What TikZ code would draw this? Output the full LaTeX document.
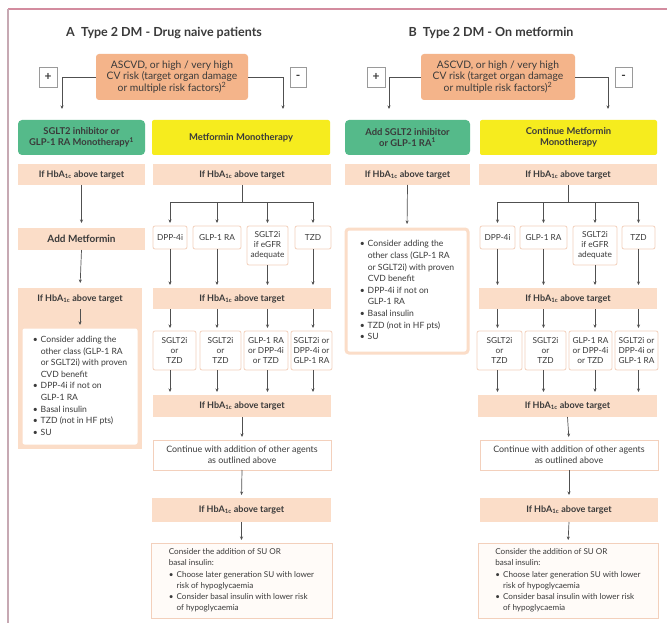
\documentclass[tikz,border=0pt]{standalone}
\usepackage{fontspec}
\setmainfont{Lato}
\usetikzlibrary{arrows.meta}
\definecolor{txt}{HTML}{3A3A3A}
\definecolor{ascv}{HTML}{F4B48A}
\definecolor{grnc}{HTML}{55BA8A}
\definecolor{yelc}{HTML}{F6EC1E}
\definecolor{hbc}{HTML}{FBDDC8}
\definecolor{smb}{HTML}{F3D0BC}
\definecolor{finfill}{HTML}{FFFBF8}
\definecolor{lin}{HTML}{505050}
\definecolor{pmgray}{HTML}{9A9A9A}
\definecolor{frtop}{HTML}{D38C9F}
\definecolor{frleft}{HTML}{C7A9B3}
\newcommand\mybox[7]{\node[#6,minimum width={(#4-#2)*1pt},minimum height={(#5-#3)*1pt}] (#1) at ({(#2+#4)/2},{(#3+#5)/2}) {#7};}
\newcommand\hbtext{If HbA\textsubscript{1c} above target}
\begin{document}
\begin{tikzpicture}[x=1pt,y=-1pt,
  every node/.style={inner sep=0pt,outer sep=0pt,text=txt},
  ttl/.style={font=\fontsize{12.5}{14}\selectfont\bfseries},
  asc/.style={fill=ascv,rounded corners=3pt,align=center,font=\fontsize{10.3}{11.5}\selectfont},
  pm/.style={draw=pmgray,fill=white,line width=0.6pt,font=\fontsize{12}{12}\selectfont\bfseries},
  grn/.style={fill=grnc,rounded corners=4pt,align=center,font=\fontsize{9.4}{11.5}\selectfont\bfseries},
  yel/.style={fill=yelc,rounded corners=2pt,align=center,font=\fontsize{9.4}{11.5}\selectfont\bfseries},
  hb/.style={fill=hbc,align=center,font=\fontsize{9}{10}\selectfont\bfseries},
  sm/.style={draw=smb,fill=white,rounded corners=2pt,line width=0.8pt,align=center,font=\fontsize{8.3}{10}\selectfont},
  lst/.style={draw=hbc,fill=white,rounded corners=3pt,line width=3pt,font=\fontsize{8.6}{11.6}\selectfont},
  cont/.style={draw=smb,fill=white,line width=0.8pt,align=center,font=\fontsize{8.9}{11}\selectfont},
  fin/.style={draw=smb,fill=finfill,line width=0.8pt,font=\fontsize{8.1}{11.2}\selectfont},
  ln/.style={draw=lin,line width=0.7pt},
  arr/.style={draw=lin,line width=0.7pt,-{Stealth[length=3.5pt,width=3pt]},shorten >=3pt}]
\useasboundingbox (0,0) rectangle (667,623);
\fill[white] (0,0) rectangle (667,623);
% frame
\draw[frtop,line width=1.5pt] (8,9) -- (667,9);
\draw[frleft,line width=2pt] (8,9) -- (8,623);

% ================= Panel A =================
\node[ttl] (ttlA) at (164,33) {A\enspace Type 2 DM - Drug naive patients};
\mybox{ascA}{96}{54}{248}{100}{asc}{ASCVD, or high / very high\\CV risk (target organ damage\\or multiple risk factors)\textsuperscript{2}}
\mybox{plusA}{39}{67}{57}{87}{pm}{+}
\mybox{minusA}{290}{67}{306}{87}{pm}{-}
\mybox{grnA}{18}{120}{145}{155}{grn}{SGLT2 inhibitor or\\GLP-1 RA Monotherapy\textsuperscript{1}}
\mybox{yelA}{152}{120}{330}{155}{yel}{Metformin Monotherapy}
\coordinate (aL) at (62,77);
\coordinate (aR) at (283,77);
\draw[arr,shorten >=11pt] (ascA.west) -- (aL) -- (aL |- grnA.north);
\draw[arr,shorten >=11pt] (ascA.east) -- (aR) -- (aR |- yelA.north);

% left column A
\mybox{hbA1}{18}{164}{145}{185}{hb}{\hbtext}
\mybox{addMet}{18}{228}{145}{250}{hb,font=\fontsize{10}{11}\selectfont\bfseries}{Add Metformin}
\fill[hbc] (18,288) rectangle (142,449);
\mybox{hbA3}{18}{288}{142}{309}{hb}{\hbtext}
\mybox{listA}{21}{327}{139}{446}{lst}{\begin{tabular}{@{}l@{\hspace{3pt}}l@{}}
\textbullet & Consider adding the\\
 & other class (GLP-1 RA\\
 & or SGLT2i) with proven\\
 & CVD benefit\\
\textbullet & DPP-4i if not on\\
 & GLP-1 RA\\
\textbullet & Basal insulin\\
\textbullet & TZD (not in HF pts)\\
\textbullet & SU
\end{tabular}}
\draw[arr,shorten >=5pt] (hbA1.south) -- (addMet.north);
\draw[arr,shorten >=5pt] (addMet.south) -- (hbA3.north);
\draw[arr,shorten >=2pt] (hbA3.south) -- (listA.north);

% right column A
\mybox{hbA2}{153}{164}{331}{185}{hb}{\hbtext}
\mybox{dppA}{153}{226}{187}{249}{sm}{DPP-4i}
\mybox{glpA}{193}{226}{241}{249}{sm}{GLP-1 RA}
\mybox{sgA}{247}{226}{288}{265}{sm}{SGLT2i\\if eGFR\\adequate}
\mybox{tzdA}{295}{226}{331}{249}{sm}{TZD}
\coordinate (busA) at (242,202);
\draw[ln] (hbA2.south) -- (busA);
\draw[ln] (busA -| dppA) -- (busA -| tzdA);
\foreach \n in {dppA,glpA,sgA,tzdA}{
  \draw[arr] (busA -| \n) -- (\n.north);}
\mybox{hbA4}{153}{288}{331}{309}{hb}{\hbtext}
\foreach \n in {dppA,glpA,sgA,tzdA}{
  \draw[arr] (\n.south) -- (\n.south |- hbA4.north);}
\mybox{cA1}{153}{331}{196}{370}{sm}{SGLT2i\\or\\TZD}
\mybox{cA2}{200}{331}{241}{370}{sm}{SGLT2i\\or\\TZD}
\mybox{cA3}{244}{331}{288}{370}{sm}{GLP-1 RA\\or DPP-4i\\or TZD}
\mybox{cA4}{291}{331}{332}{370}{sm}{SGLT2i or\\DPP-4i or\\GLP-1 RA}
\draw[arr] (dppA |- hbA4.south) -- (dppA |- cA1.north);
\draw[arr] (glpA |- hbA4.south) -- (glpA |- cA2.north);
\draw[arr] (sgA |- hbA4.south) -- (sgA |- cA3.north);
\draw[arr] (tzdA |- hbA4.south) -- (tzdA |- cA4.north);
\mybox{hbA5}{153}{395}{331}{417}{hb}{\hbtext}
\draw[arr] (dppA |- cA1.south) -- (dppA |- hbA5.north);
\draw[arr] (glpA |- cA2.south) -- (glpA |- hbA5.north);
\draw[arr] (sgA |- cA3.south) -- (sgA |- hbA5.north);
\draw[arr] (tzdA |- cA4.south) -- (tzdA |- hbA5.north);
\mybox{contA}{153}{440}{331}{470}{cont}{Continue with addition of other agents\\as outlined above}
\mybox{hbA6}{152}{498}{331}{522}{hb}{\hbtext}
\mybox{finA}{151}{543}{332}{618}{fin}{\begin{tabular}{@{}l@{\hspace{3pt}}l@{}}
\multicolumn{2}{@{}l@{}}{Consider the addition of SU OR}\\
\multicolumn{2}{@{}l@{}}{basal insulin:}\\
\textbullet & Choose later generation SU with lower\\
 & risk of hypoglycaemia\\
\textbullet & Consider basal insulin with lower risk\\
 & of hypoglycaemia
\end{tabular}}
\draw[arr] (hbA5.south) -- (contA.north);
\draw[arr] (contA.south) -- (hbA6.north);
\draw[arr] (hbA6.south) -- (finA.north);

% ================= Panel B =================
\node[ttl] (ttlB) at (491,33) {B\enspace Type 2 DM - On metformin};
\mybox{ascB}{421}{54}{575}{100}{asc}{ASCVD, or high / very high\\CV risk (target organ damage\\or multiple risk factors)\textsuperscript{2}}
\mybox{plusB}{367}{67}{385}{87}{pm}{+}
\mybox{minusB}{615}{67}{632}{87}{pm}{-}
\mybox{grnB}{345}{120}{470}{155}{grn}{Add SGLT2 inhibitor\\or GLP-1 RA\textsuperscript{1}}
\mybox{yelB}{480}{120}{657}{155}{yel}{Continue Metformin\\Monotherapy}
\coordinate (bL) at (389,77);
\coordinate (bR) at (608,77);
\draw[arr,shorten >=11pt] (ascB.west) -- (bL) -- (bL |- grnB.north);
\draw[arr,shorten >=11pt] (ascB.east) -- (bR) -- (bR |- yelB.north);

% left column B
\mybox{hbB1}{345}{164}{470}{185}{hb}{\hbtext}
\mybox{listB}{346}{229}{468}{353}{lst}{\begin{tabular}{@{}l@{\hspace{3pt}}l@{}}
\textbullet & Consider adding the\\
 & other class (GLP-1 RA\\
 & or SGLT2i) with proven\\
 & CVD benefit\\
\textbullet & DPP-4i if not on\\
 & GLP-1 RA\\
\textbullet & Basal insulin\\
\textbullet & TZD (not in HF pts)\\
\textbullet & SU
\end{tabular}}
\draw[arr,shorten >=5pt] (hbB1.south) -- (listB.north);

% right column B
\mybox{hbB2}{479}{164}{657}{185}{hb}{\hbtext}
\mybox{dppB}{480}{226}{515}{249}{sm}{DPP-4i}
\mybox{glpB}{520}{226}{567}{249}{sm}{GLP-1 RA}
\mybox{sgB}{573}{226}{617}{265}{sm}{SGLT2i\\if eGFR\\adequate}
\mybox{tzdB}{622}{226}{655}{249}{sm}{TZD}
\coordinate (busB) at (568,202);
\draw[ln] (hbB2.south) -- (busB);
\draw[ln] (busB -| dppB) -- (busB -| tzdB);
\foreach \n in {dppB,glpB,sgB,tzdB}{
  \draw[arr] (busB -| \n) -- (\n.north);}
\mybox{hbB4}{479}{288}{657}{309}{hb}{\hbtext}
\foreach \n in {dppB,glpB,sgB,tzdB}{
  \draw[arr] (\n.south) -- (\n.south |- hbB4.north);}
\mybox{cB1}{477}{331}{522}{370}{sm}{SGLT2i\\or\\TZD}
\mybox{cB2}{525}{331}{566}{370}{sm}{SGLT2i\\or\\TZD}
\mybox{cB3}{569}{331}{612}{370}{sm}{GLP-1 RA\\or DPP-4i\\or TZD}
\mybox{cB4}{615}{331}{658}{370}{sm}{SGLT2i or\\DPP-4i or\\GLP-1 RA}
\draw[arr] (dppB |- hbB4.south) -- (dppB |- cB1.north);
\draw[arr] (glpB |- hbB4.south) -- (glpB |- cB2.north);
\draw[arr] (sgB |- hbB4.south) -- (sgB |- cB3.north);
\draw[arr] (tzdB |- hbB4.south) -- (tzdB |- cB4.north);
\mybox{hbB5}{478}{395}{657}{417}{hb}{\hbtext}
\draw[arr] (dppB |- cB1.south) -- (dppB |- hbB5.north);
\draw[arr] (glpB |- cB2.south) -- (glpB |- hbB5.north);
\draw[arr] (sgB |- cB3.south) -- (sgB |- hbB5.north);
\draw[arr] (tzdB |- cB4.south) -- (tzdB |- hbB5.north);
\mybox{contB}{480}{440}{658}{470}{cont}{Continue with addition of other agents\\as outlined above}
\mybox{hbB6}{480}{498}{658}{522}{hb}{\hbtext}
\mybox{finB}{478}{543}{658}{618}{fin}{\begin{tabular}{@{}l@{\hspace{3pt}}l@{}}
\multicolumn{2}{@{}l@{}}{Consider the addition of SU OR}\\
\multicolumn{2}{@{}l@{}}{basal insulin:}\\
\textbullet & Choose later generation SU with lower\\
 & risk of hypoglycaemia\\
\textbullet & Consider basal insulin with lower risk\\
 & of hypoglycaemia
\end{tabular}}
\draw[arr] (hbB5.south) -- (contB.north);
\draw[arr] (contB.south) -- (hbB6.north);
\draw[arr] (hbB6.south) -- (finB.north);
\end{tikzpicture}
\end{document}
